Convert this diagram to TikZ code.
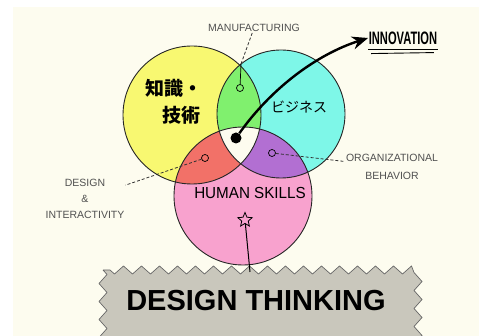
\documentclass[tikz,border=0pt]{standalone}
\usepackage{fontspec}
\setmainfont{Liberation Sans}
\newfontfamily\jpfont{Noto Sans CJK JP}
\usetikzlibrary{shapes.geometric,decorations.pathmorphing,arrows.meta}

\definecolor{paper}{HTML}{FDFCEF}
\definecolor{venyellow}{HTML}{F8F871}
\definecolor{vencyan}{HTML}{7EF7E8}
\definecolor{venpink}{HTML}{F8A2CE}
\definecolor{vengreen}{HTML}{80F06E}
\definecolor{venred}{HTML}{F27168}
\definecolor{venpurple}{HTML}{B26FD2}
\definecolor{boxgray}{HTML}{C9C7BC}
\definecolor{notegray}{HTML}{505050}

\tikzset{
  ring/.style={draw=black!85, line width=0.9pt},
  pin/.style={draw=black, circle, inner sep=0pt, minimum size=7pt, line width=0.7pt},
  note/.style={text=notegray, font=\fontsize{10.5}{11}\selectfont, align=center, inner sep=1pt},
  lead/.style={dashed, dash pattern=on 3pt off 2pt, line width=0.8pt, draw=black!80},
}

\begin{document}
\begin{tikzpicture}[x=1pt, y=-1pt]
\clip (0,0) rectangle (479,336);
\fill[white] (0,0) rectangle (479,336);
\fill[paper] (13,7) rectangle (479,336);

\coordinate (yel) at (192,115);
\coordinate (cya) at (281,114);
\coordinate (pnk) at (243,196);

\fill[venyellow] (yel) circle[radius=69];
\fill[vencyan] (cya) circle[radius=64];
\fill[venpink] (pnk) circle[radius=69];
\begin{scope}
  \clip (yel) circle[radius=69];
  \fill[vengreen] (cya) circle[radius=64];
  \fill[venred] (pnk) circle[radius=69];
\end{scope}
\begin{scope}
  \clip (cya) circle[radius=64];
  \fill[venpurple] (pnk) circle[radius=69];
\end{scope}
\begin{scope}
  \clip (yel) circle[radius=69];
  \clip (cya) circle[radius=64];
  \fill[paper] (pnk) circle[radius=69];
\end{scope}
\draw[ring] (yel) circle[radius=69];
\draw[ring] (cya) circle[radius=64];
\draw[ring] (pnk) circle[radius=69];

\draw[fill=boxgray, draw=black!60, line width=0.7pt, decorate,
  decoration={zigzag, segment length=18pt, amplitude=4pt}] (103,270) rectangle (418,350);

\node (chishiki) [font=\jpfont\bfseries\fontsize{19}{27}\selectfont, align=left] at (174,102) {知識・\\\hspace{0.9em}技術};
\node (business) [font=\jpfont\fontsize{14}{16}\selectfont] at (299,107) {ビジネス};
\node (human) [font=\fontsize{16}{17}\selectfont, xscale=0.95] at (250,193) {HUMAN SKILLS};
\node (dt) [font=\bfseries\fontsize{29}{30}\selectfont] at (256,301) {DESIGN THINKING};

\node (manu) [note] at (254,28) {MANUFACTURING};
\node (design) [note, font=\fontsize{10.5}{16}\selectfont] at (85,199) {DESIGN\\\&\\INTERACTIVITY};
\node (org) [note, font=\fontsize{10.5}{18}\selectfont] at (392,167) {ORGANIZATIONAL\\BEHAVIOR};
\node (innov) [font=\bfseries\fontsize{18}{20}\selectfont, xscale=0.62, inner sep=1pt] at (403,38) {INNOVATION};

\node (pinmanu) [pin] at (240,88) {};
\node (pindes) [pin] at (205,158) {};
\node (pinorg) [pin] at (272,153) {};
\node (dot) [circle, fill=black, minimum size=11pt, inner sep=0pt] at (236,138) {};
\node (star) [star, star points=5, star point ratio=2.2, draw, line width=0.8pt, minimum size=15pt, inner sep=0pt] at (245,220) {};

\coordinate (stem) at (241,64);
\coordinate (boxtop) at (250,272);

\draw [line width=0.7pt] (pinmanu) -- (stem);
\draw [lead] (stem) -- (manu);
\draw [lead] (pindes) -- (design);
\draw [lead] (pinorg) -- (org);
\draw [line width=1pt] (star) -- (boxtop);

\draw [-{Stealth[length=16pt, width=13pt]}, line width=2.4pt] (dot) .. controls (270,90) and (315,55) .. (innov.west);
\draw [line width=0.9pt] ([yshift=-4pt]innov.south west) -- ([yshift=-4pt]innov.south east);
\draw [line width=0.9pt] ([yshift=-8pt, xshift=3pt]innov.south west) -- ([yshift=-7pt, xshift=-4pt]innov.south east);
\end{tikzpicture}
\end{document}
